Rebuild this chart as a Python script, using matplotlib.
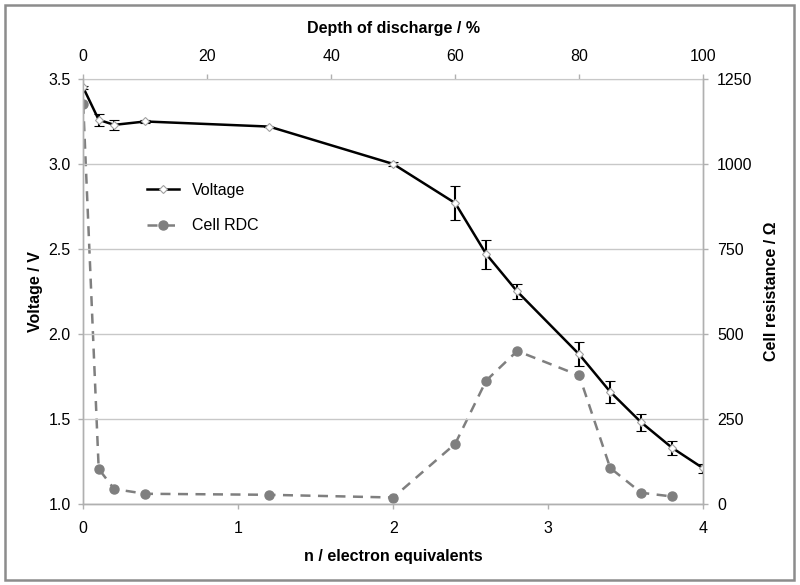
import matplotlib.pyplot as plt
from matplotlib.lines import Line2D

plt.rcParams['font.family'] = ['Liberation Sans', 'DejaVu Sans']

n_eq = [0, 0.1, 0.2, 0.4, 1.2, 2.0, 2.4, 2.6, 2.8, 3.2, 3.4, 3.6, 3.8, 4.0]
voltage = [3.45, 3.26, 3.23, 3.25, 3.22, 3.00, 2.77, 2.47, 2.25, 1.88, 1.66, 1.48, 1.33, 1.21]
voltage_err = [0.01, 0.035, 0.03, 0.01, 0.0, 0.012, 0.10, 0.085, 0.045, 0.07, 0.065, 0.05, 0.04, 0.025]

n_rdc = [0, 0.1, 0.2, 0.4, 1.2, 2.0, 2.4, 2.6, 2.8, 3.2, 3.4, 3.6, 3.8]
rdc = [1177, 103, 44, 30, 27, 19, 177, 363, 450, 378, 106, 33, 22]

v_ticks = [1.0, 1.5, 2.0, 2.5, 3.0, 3.5]
r_ticks = [0, 250, 500, 750, 1000, 1250]
n_ticks = [0, 1, 2, 3, 4]
dod_ticks = [0, 20, 40, 60, 80, 100]

grey = '#7f7f7f'
axis_grey = '#b0b0b0'
fs = 11.5

fig = plt.figure(figsize=(8, 5.85), dpi=100)
ax = fig.add_axes([0.104, 0.1385, 0.775, 0.7265])
ax2 = ax.twinx()

# resistance on the secondary axis, drawn below voltage
l2, = ax2.plot(n_rdc, rdc, color=grey, linestyle=(0, (4, 3)), linewidth=1.8,
               marker='o', markersize=6.5, markerfacecolor=grey, markeredgecolor=grey)
ax2.set_ylim(0, 1250)
ax2.set_yticks(r_ticks)

ax.errorbar(n_eq, voltage, yerr=voltage_err, color='black', linewidth=1.8,
            elinewidth=1.5, capsize=3.5, capthick=1.5,
            marker='D', markersize=4, markerfacecolor='white',
            markeredgecolor='#a0a0a0', markeredgewidth=0.8)
ax.set_zorder(ax2.get_zorder() + 1)
ax.patch.set_visible(False)

ax.set_xlim(0, 4)
ax.set_ylim(1.0, 3.5)
ax.set_xticks(n_ticks)
ax.set_yticks(v_ticks)
ax.set_yticklabels([f'{v:.1f}' for v in v_ticks])
ax.yaxis.grid(True, color='#c8c8c8', linewidth=1)
ax.set_axisbelow(True)

top = ax.secondary_xaxis('top', functions=(lambda x: x * 25, lambda d: d / 25))
top.set_xticks(dod_ticks)
top.set_xlabel('Depth of discharge / %', fontsize=fs, fontweight='bold', labelpad=11)

for a in (ax, ax2):
    for s in a.spines.values():
        s.set_color(axis_grey)
        s.set_linewidth(1)
ax.spines['top'].set_visible(False)
ax2.spines['top'].set_visible(False)
top.spines['top'].set_color(axis_grey)

for a in (ax, ax2, top):
    a.tick_params(colors=axis_grey, labelcolor='black', labelsize=fs, length=3.5, width=1)
ax.tick_params(axis='x', pad=9)
ax.tick_params(axis='y', pad=5.5)
ax2.tick_params(axis='y', pad=6.5)
top.tick_params(axis='x', pad=7.5)

ax.set_xlabel('n / electron equivalents', fontsize=fs, fontweight='bold', labelpad=9)
ax.set_ylabel('Voltage / V', fontsize=fs, fontweight='bold', labelpad=4)
ax2.set_ylabel('Cell resistance / Ω', fontsize=fs, fontweight='bold', labelpad=8)

h1 = Line2D([], [], color='black', linewidth=1.8, marker='D', markersize=4,
            markerfacecolor='white', markeredgecolor='#a0a0a0', markeredgewidth=0.8)
ax.legend([h1, l2], ['Voltage', 'Cell RDC'], loc='upper left',
          bbox_to_anchor=(0.08, 0.79), frameon=False, fontsize=fs,
          handlelength=2.0, labelspacing=1.3)

border = plt.Rectangle((0.006, 0.009), 0.986, 0.983, transform=fig.transFigure,
                       fill=False, edgecolor='#8c8c8c', linewidth=1.8)
fig.patches.append(border)

fig.savefig('out.png', dpi=100)
